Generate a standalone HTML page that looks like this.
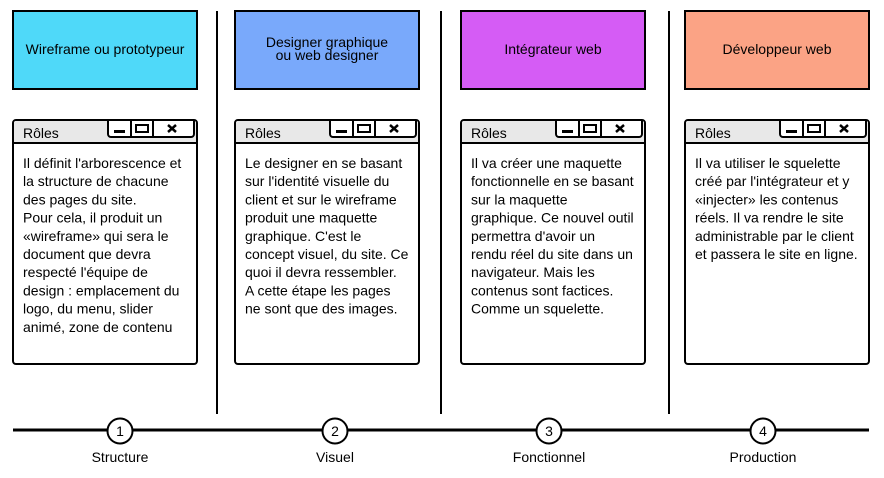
<!DOCTYPE html>
<html><head><meta charset="utf-8"><style>
html,body{margin:0;padding:0;background:#fff}
svg{display:block}
text{font-family:"Liberation Sans",Arial,sans-serif;font-size:14px;fill:#000}
</style></head><body>
<svg width="884" height="478" viewBox="0 0 884 478" xmlns="http://www.w3.org/2000/svg">
<g stroke="#000" stroke-width="2">
<line x1="217" y1="11" x2="217" y2="414"/>
<line x1="441" y1="11" x2="441" y2="414"/>
<line x1="669" y1="11" x2="669" y2="414"/>
<line x1="13" y1="430" x2="869" y2="430" stroke-width="3"/>
<rect x="13" y="11" width="184" height="78" fill="#4fd9f9"/>
<rect x="235" y="11" width="184" height="78" fill="#79a9fb"/>
<rect x="461" y="11" width="184" height="78" fill="#d55cf5"/>
<rect x="685" y="11" width="184" height="78" fill="#fba385"/>
</g>
<g text-anchor="middle">
<text x="105" y="54">Wireframe ou prototypeur</text>
<text x="327" y="47">Designer graphique</text>
<text x="327" y="60">ou web designer</text>
<text x="553" y="54">Intégrateur web</text>
<text x="777" y="54">Développeur web</text>
</g>
<defs>
<g id="win">
<rect x="0" y="0" width="184" height="244" rx="3" fill="#fff" stroke="#000" stroke-width="2"/>
<path d="M1 23 V3 a2 2 0 0 1 2 -2 H181 a2 2 0 0 1 2 2 V23 Z" fill="#e8e8e8"/>
<line x1="0" y1="23" x2="184" y2="23" stroke="#000" stroke-width="2"/>
<path d="M95 1 V14 a3 3 0 0 0 3 3 H178 a3 3 0 0 0 3 -3 V1" fill="#fff" stroke="#000" stroke-width="2"/>
<line x1="118" y1="1" x2="118" y2="17" stroke="#000" stroke-width="2"/>
<line x1="140" y1="1" x2="140" y2="17" stroke="#000" stroke-width="2"/>
<rect x="101" y="10" width="11" height="3" fill="#000"/>
<rect x="123" y="5" width="12" height="7" fill="none" stroke="#000" stroke-width="2"/>
<path d="M155 5 L163 12 M163 5 L155 12" stroke="#000" stroke-width="2.5"/>
</g>
</defs>
<use href="#win" x="13" y="120"/>
<use href="#win" x="235" y="120"/>
<use href="#win" x="461" y="120"/>
<use href="#win" x="685" y="120"/>
<text x="23" y="138">Rôles</text>
<text x="245" y="138">Rôles</text>
<text x="471" y="138">Rôles</text>
<text x="695" y="138">Rôles</text>
<text x="23" y="168"><tspan x="23">Il définit l'arborescence et</tspan><tspan x="23" dy="18.2">la structure de chacune</tspan><tspan x="23" dy="18.2">des pages du site.</tspan><tspan x="23" dy="18.2">Pour cela, il produit un</tspan><tspan x="23" dy="18.2">«wireframe» qui sera le</tspan><tspan x="23" dy="18.2">document que devra</tspan><tspan x="23" dy="18.2">respecté l'équipe de</tspan><tspan x="23" dy="18.2">design : emplacement du</tspan><tspan x="23" dy="18.2">logo, du menu, slider</tspan><tspan x="23" dy="18.2">animé, zone de contenu</tspan></text>
<text x="245" y="168"><tspan x="245">Le designer en se basant</tspan><tspan x="245" dy="18.2">sur l'identité visuelle du</tspan><tspan x="245" dy="18.2">client et sur le wireframe</tspan><tspan x="245" dy="18.2">produit une maquette</tspan><tspan x="245" dy="18.2">graphique. C'est le</tspan><tspan x="245" dy="18.2">concept visuel, du site. Ce</tspan><tspan x="245" dy="18.2">quoi il devra ressembler.</tspan><tspan x="245" dy="18.2">A cette étape les pages</tspan><tspan x="245" dy="18.2">ne sont que des images.</tspan></text>
<text x="471" y="168"><tspan x="471">Il va créer une maquette</tspan><tspan x="471" dy="18.2">fonctionnelle en se basant</tspan><tspan x="471" dy="18.2">sur la maquette</tspan><tspan x="471" dy="18.2">graphique. Ce nouvel outil</tspan><tspan x="471" dy="18.2">permettra d'avoir un</tspan><tspan x="471" dy="18.2">rendu réel du site dans un</tspan><tspan x="471" dy="18.2">navigateur. Mais les</tspan><tspan x="471" dy="18.2">contenus sont factices.</tspan><tspan x="471" dy="18.2">Comme un squelette.</tspan></text>
<text x="695" y="168"><tspan x="695">Il va utiliser le squelette</tspan><tspan x="695" dy="18.2">créé par l'intégrateur et y</tspan><tspan x="695" dy="18.2">«injecter» les contenus</tspan><tspan x="695" dy="18.2">réels. Il va rendre le site</tspan><tspan x="695" dy="18.2">administrable par le client</tspan><tspan x="695" dy="18.2">et passera le site en ligne.</tspan></text>
<g fill="#fff" stroke="#000" stroke-width="2">
<circle cx="120" cy="431" r="12.5"/>
<circle cx="335" cy="431" r="12.5"/>
<circle cx="549" cy="431" r="12.5"/>
<circle cx="763" cy="431" r="12.5"/>
</g>
<g text-anchor="middle">
<text x="120" y="436">1</text><text x="335" y="436">2</text><text x="549" y="436">3</text><text x="763" y="436">4</text>
<text x="120" y="462">Structure</text><text x="335" y="462">Visuel</text><text x="549" y="462">Fonctionnel</text><text x="763" y="462">Production</text>
</g>
</svg>
</body></html>
